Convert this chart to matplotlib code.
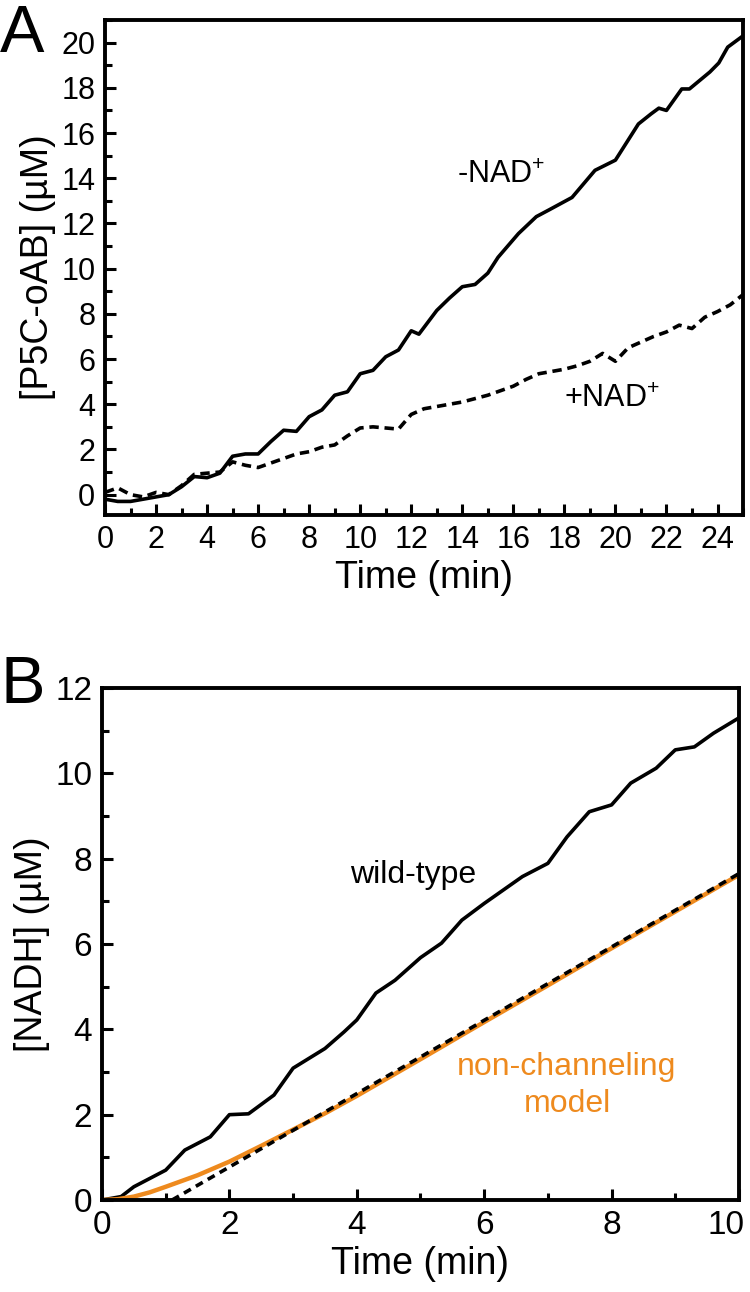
import matplotlib
matplotlib.use("Agg")
import matplotlib.pyplot as plt
import matplotlib.transforms as mtransforms
from matplotlib.ticker import MultipleLocator

plt.rcParams['font.family'] = ['Liberation Sans', 'DejaVu Sans']
plt.rcParams['mathtext.fontset'] = 'custom'
plt.rcParams['mathtext.rm'] = 'Liberation Sans'
plt.rcParams['mathtext.it'] = 'Liberation Sans:italic'

# panel A: P5C-oAB formation
t_minus = [0, 0.5, 1, 1.5, 2, 2.5, 3, 3.5, 4, 4.5, 5, 5.5, 6, 6.5, 7, 7.5, 8, 8.5, 9, 9.5,
           10, 10.5, 11, 11.5, 12, 12.3, 13, 13.5, 14, 14.5, 15, 15.4, 16.2, 16.9, 17.4,
           18.3, 19.2, 20.0, 20.9, 21.4, 21.7, 22.0, 22.6, 22.9, 23.7, 24.05, 24.4, 25]
y_minus = [-0.2, -0.3, -0.3, -0.2, -0.1, 0.0, 0.35, 0.8, 0.75, 0.95, 1.7, 1.8, 1.8, 2.35, 2.85,
           2.8, 3.45, 3.75, 4.4, 4.55, 5.35, 5.5, 6.1, 6.4, 7.25, 7.1, 8.15, 8.7, 9.2, 9.3,
           9.8, 10.5, 11.55, 12.3, 12.6, 13.15, 14.35, 14.8, 16.4, 16.85, 17.1, 17.0, 17.95,
           17.95, 18.7, 19.1, 19.8, 20.3]

t_plus = [0, 0.5, 1, 1.5, 2, 2.5, 3, 3.5, 4, 4.5, 5, 5.5, 6, 6.5, 7, 7.5, 8, 8.5, 9, 9.5,
          10, 10.5, 11, 11.5, 12, 12.5, 13, 13.5, 14, 14.5, 15, 15.5, 16, 16.5, 17, 17.5,
          18, 18.5, 19, 19.5, 20, 20.5, 21, 21.5, 22, 22.5, 23, 23.5, 24, 24.5, 25]
y_plus = [0.1, 0.3, 0.0, -0.1, 0.1, 0.0, 0.4, 0.9, 0.95, 1.0, 1.45, 1.3, 1.2, 1.4, 1.6, 1.8,
          1.9, 2.1, 2.2, 2.6, 2.95, 3.0, 2.95, 2.9, 3.55, 3.8, 3.9, 4.0, 4.1, 4.25, 4.4, 4.6,
          4.8, 5.1, 5.35, 5.45, 5.55, 5.7, 5.9, 6.25, 5.9, 6.5, 6.75, 7.0, 7.2, 7.5, 7.35,
          7.85, 8.1, 8.4, 8.85]

# panel B: NADH formation
t_wt = [0, 0.3, 0.5, 1, 1.3, 1.7, 2, 2.3, 2.7, 3, 3.5, 3.8, 4, 4.3, 4.6, 5.0, 5.33, 5.65,
        6.0, 6.6, 7.0, 7.3, 7.65, 8.0, 8.3, 8.7, 9.0, 9.3, 9.6, 10]
y_wt = [0, 0.08, 0.31, 0.7, 1.17, 1.48, 2.0, 2.02, 2.46, 3.09, 3.55, 3.94, 4.22, 4.85, 5.15,
        5.68, 6.02, 6.56, 6.95, 7.58, 7.89, 8.51, 9.1, 9.26, 9.77, 10.12, 10.55, 10.62,
        10.94, 11.3]

t_model = [0, 0.25, 0.5, 0.75, 1, 1.5, 2, 2.5, 3, 3.5, 4, 5, 6, 7, 8, 9, 10]
y_model = [0, 0.02, 0.08, 0.18, 0.31, 0.58, 0.9, 1.27, 1.65, 2.03, 2.44, 3.3, 4.17, 5.03,
           5.9, 6.76, 7.62]

t_fit = [1.1, 10]
y_fit = [0, 7.65]

b_xticks = [0, 2, 4, 6, 8, 10]

orange = '#EE8A1E'

fig = plt.figure(figsize=(7.5, 12.92), dpi=100)


def style_axes(ax, tick_size):
    for s in ax.spines.values():
        s.set_linewidth(2.8)
    ax.tick_params(which='both', direction='in', width=2.2, labelsize=tick_size,
                   top=False, right=False, pad=7)
    ax.tick_params(which='major', length=8)
    ax.tick_params(which='minor', length=5)


axA = fig.add_axes([0.14, 0.6014, 0.8507, 0.3831])
axA.plot(t_minus, y_minus, color='black', lw=2.6)
axA.plot(t_plus, y_plus, color='black', lw=2.6, linestyle=(0, (2.6, 1.6)))
axA.set_xlim(0, 25)
axA.set_ylim(-0.9, 21)
axA.xaxis.set_major_locator(MultipleLocator(2))
axA.xaxis.set_minor_locator(MultipleLocator(1))
axA.yaxis.set_major_locator(MultipleLocator(2))
axA.yaxis.set_minor_locator(MultipleLocator(1))
style_axes(axA, 22)
axA.set_xlabel('Time (min)', fontsize=27, labelpad=4)
axA.set_ylabel('[P5C-oAB] (µM)', fontsize=27, labelpad=4)
axA.text(13.8, 13.8, r'-NAD$^{+}$', fontsize=22)
axA.text(18.0, 3.9, r'+NAD$^{+}$', fontsize=22)

axB = fig.add_axes([0.136, 0.0712, 0.8493, 0.3963])
axB.plot(t_wt, y_wt, color='black', lw=2.6)
axB.plot(t_model, y_model, color=orange, lw=3.2)
axB.plot(t_fit, y_fit, color='black', lw=2.6, linestyle=(0, (2.2, 1.6)))
axB.set_xlim(0, 10)
axB.set_ylim(0, 12)
axB.set_xticks(b_xticks)
axB.xaxis.set_minor_locator(MultipleLocator(1))
axB.yaxis.set_major_locator(MultipleLocator(2))
axB.yaxis.set_minor_locator(MultipleLocator(1))
style_axes(axB, 24)
axB.set_xlabel('Time (min)', fontsize=27, labelpad=4)
axB.set_ylabel('[NADH] (µM)', fontsize=27, labelpad=4)
axB.text(3.9, 7.43, 'wild-type', fontsize=23)
axB.text(7.3, 2.93, 'non-channeling', fontsize=23, color=orange, ha='center')
axB.text(7.3, 2.06, 'model', fontsize=23, color=orange, ha='center')

# keep the last x tick label inside the figure
lab = axB.get_xticklabels()[-1]
lab.set_horizontalalignment('right')
lab.set_transform(lab.get_transform() +
                  mtransforms.ScaledTranslation(4 / 72, 0, fig.dpi_scale_trans))

fig.text(0.0, 0.9598, 'A', fontsize=48, va='baseline')
fig.text(0.0, 0.4559, 'B', fontsize=48, va='baseline')

fig.savefig('out.png', dpi=100)
